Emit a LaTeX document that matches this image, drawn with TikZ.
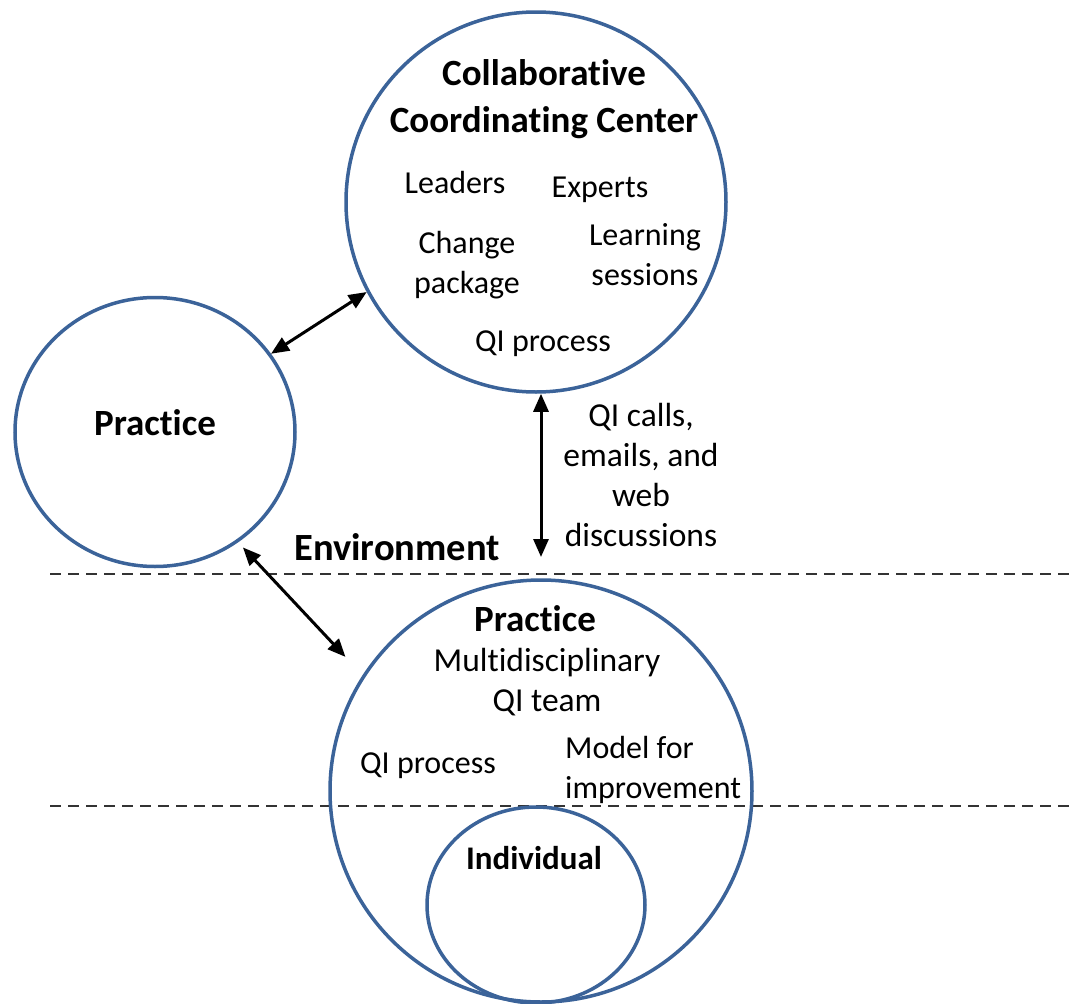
\documentclass[tikz,border=0pt]{standalone}
\usepackage{fontspec}
\setmainfont[Ligatures=NoCommon]{Carlito}
\usetikzlibrary{arrows.meta, shapes.geometric}
\definecolor{ringblue}{HTML}{3B6399}
\definecolor{dashgray}{HTML}{333333}

\begin{document}
\begin{tikzpicture}[
    x=1pt, y=-1pt,
    ring/.style={draw=ringblue, line width=3.5pt, inner sep=0pt},
    link/.style={{Triangle[length=18pt,width=15pt]}-{Triangle[length=18pt,width=15pt]}, line width=3pt},
    divider/.style={dashgray, line width=2pt, dash pattern=on 11pt off 7pt},
    head/.style={font=\fontsize{37}{47}\selectfont\bfseries, anchor=base, align=center, inner sep=0pt},
    item/.style={font=\fontsize{32}{40}\selectfont, anchor=base, align=center, inner sep=0pt},
    bigitem/.style={item, font=\fontsize{33.5}{40}\selectfont}
]
\useasboundingbox (0,0) rectangle (1072,1004);

% environment / practice / individual levels
\draw[divider] (50,574) -- (1072,574);
\draw[divider] (50,806) -- (1072,806);

\node[ring, circle, minimum size=380pt] (ccc) at (536,202) {};
\node[ring, ellipse, minimum width=280pt, minimum height=269pt] (prac) at (155,432) {};
\node[ring, circle, minimum size=422pt] (team) at (541,791) {};
\node[ring, ellipse, minimum width=218pt, minimum height=196pt] (indiv) at (536,905) {};

% base of a multi-line node = baseline of its last line
\node[head] (ccctitle) at (544,132) {Collaborative\\Coordinating Center};
\node[item] (leaders) at (455,193) {Leaders};
\node[item] (experts) at (600,197) {Experts};
\node[item] (change) at (467,293) {Change\\package};
\node[item] (learning) at (645,285) {Learning\\sessions};
\node[item] (cccproc) at (543,351) {QI process};

\node[head] (praclabel) at (155,435) {Practice};

\node[bigitem] (channels) at (641,546) {QI calls,\\emails, and\\web\\discussions};
\node[head, font=\fontsize{38.5}{47}\selectfont\bfseries] (envlabel) at (397,560) {Environment};

\node[head] (teamlabel) at (535,631) {Practice};
\node[bigitem] (multi) at (547,711) {Multidisciplinary\\QI team};
\node[item] (teamproc) at (428,773) {QI process};
\node[item, align=left, anchor=base west] (model) at (565,798) {Model for\\improvement};
\node[head, font=\fontsize{33}{40}\selectfont\bfseries] (indivlabel) at (534,869) {Individual};

\coordinate (envtip) at (541,557);

\draw[link] (prac.34) -- (ccc.208);
\draw[link, shorten <=7pt, shorten >=25pt] (prac.-53) -- (team.147);
\draw[link] (envtip |- ccc.south) -- (envtip);
\end{tikzpicture}
\end{document}
